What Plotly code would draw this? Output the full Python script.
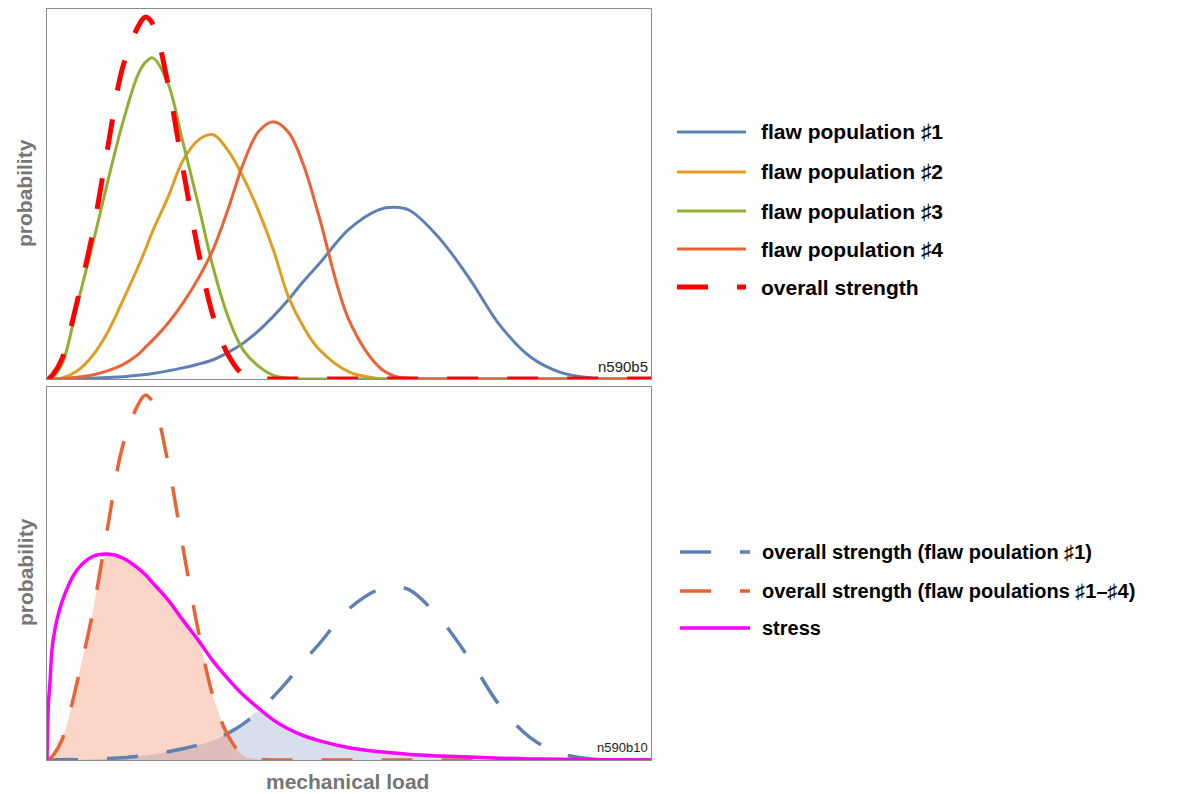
import numpy as np
import plotly.graph_objects as go

# page body has an 8px margin: figure covers reference pixels 8..1183 / 8..794
OFF = 8
W, H = 1175, 786

# mechanical load grid (arbitrary units, 0..10)
load = [0, 0.02, 0.05, 0.1, 0.25, 0.5, 0.75, 1.0, 1.25, 1.5, 1.625, 1.75, 2.0, 2.25,
        2.5, 2.75, 3.0, 3.25, 3.5, 3.75, 4.0, 4.25, 4.5, 5.0, 5.5, 5.75, 6.0, 6.5,
        7.0, 7.5, 8.0, 8.5, 9.0, 9.5, 10.0]

# probability densities (relative to panel height)
pop1 = [0, 0, 0, 0, 0.001, 0.001, 0.002, 0.004, 0.006, 0.010, 0.012, 0.015, 0.022, 0.030,
        0.040, 0.052, 0.072, 0.097, 0.130, 0.170, 0.215, 0.265, 0.310, 0.405, 0.458, 0.464, 0.456, 0.380,
        0.270, 0.145, 0.060, 0.018, 0.003, 0, 0]
pop2 = [0, 0, 0, 0, 0.003, 0.022, 0.062, 0.125, 0.210, 0.300, 0.348, 0.400, 0.490, 0.590,
        0.645, 0.660, 0.617, 0.545, 0.455, 0.348, 0.221, 0.140, 0.081, 0.019, 0.001, 0, 0, 0,
        0, 0, 0, 0, 0, 0, 0]
pop3 = [0, 0, 0.002, 0.006, 0.040, 0.200, 0.360, 0.530, 0.690, 0.820, 0.855, 0.868, 0.800, 0.640,
        0.475, 0.302, 0.167, 0.078, 0.035, 0.010, 0.002, 0, 0, 0, 0, 0, 0, 0,
        0, 0, 0, 0, 0, 0, 0]
pop4 = [0, 0, 0, 0, 0.001, 0.005, 0.011, 0.022, 0.038, 0.065, 0.085, 0.105, 0.150, 0.205,
        0.270, 0.350, 0.460, 0.582, 0.668, 0.695, 0.666, 0.577, 0.442, 0.159, 0.032, 0.008, 0.002, 0,
        0, 0, 0, 0, 0, 0, 0]
overall = [0, 0, 0.004, 0.012, 0.055, 0.210, 0.390, 0.620, 0.840, 0.950, 0.978, 0.960, 0.800, 0.570,
           0.350, 0.170, 0.065, 0.012, 0.002, 0, 0, 0, 0, 0, 0, 0, 0, 0,
           0, 0, 0, 0, 0, 0, 0]
stress = [0, 0.14, 0.21, 0.32, 0.425, 0.51, 0.545, 0.552, 0.542, 0.515, 0.497, 0.475, 0.43, 0.375,
          0.322, 0.265, 0.217, 0.174, 0.139, 0.107, 0.083, 0.065, 0.052, 0.033, 0.022, 0.019, 0.015, 0.011,
          0.008, 0.005, 0.003, 0.002, 0.001, 0.001, 0]

top_names = ["flaw population ♯1", "flaw population ♯2", "flaw population ♯3",
             "flaw population ♯4", "overall strength"]
bottom_names = ["overall strength (flaw poulation ♯1)",
                "overall strength (flaw poulations ♯1–♯4)", "stress"]

BLUE, ORANGE, GREEN, RUST = "#5E81B5", "#E19C24", "#8FB032", "#EB6235"
RED, MAGENTA = "#FF0000", "#FF00FF"
DASH = "31px,29px"

fill_red = np.minimum(np.array(stress), np.array(overall))
fill_blue = np.minimum(np.array(stress), np.array(pop1))

fig = go.Figure()


def line(y, color, width, dash=None, xa="x", ya="y"):
    fig.add_trace(go.Scatter(x=load, y=y, mode="lines", xaxis=xa, yaxis=ya,
                             line=dict(color=color, width=width, dash=dash, shape="spline", smoothing=1),
                             showlegend=False, hoverinfo="skip"))


# top panel
line(pop1, BLUE, 3)
line(pop2, ORANGE, 3)
line(pop3, GREEN, 3)
line(pop4, RUST, 3)
line(overall, RED, 5, DASH)

# bottom panel fills
fig.add_trace(go.Scatter(x=load, y=fill_blue, mode="lines", xaxis="x2", yaxis="y2",
                         line=dict(width=0, shape="spline", smoothing=1), fill="tozeroy",
                         fillcolor="rgba(94,129,181,0.25)", showlegend=False, hoverinfo="skip"))
fig.add_trace(go.Scatter(x=load, y=fill_red, mode="lines", xaxis="x2", yaxis="y2",
                         line=dict(width=0, shape="spline", smoothing=1), fill="tozeroy",
                         fillcolor="rgba(235,98,53,0.27)", showlegend=False, hoverinfo="skip"))
line(pop1, BLUE, 3.5, DASH, "x2", "y2")
line(overall, RUST, 3.5, DASH, "x2", "y2")
line(stress, MAGENTA, 3.5, None, "x2", "y2")

ax = dict(showgrid=False, zeroline=False, showticklabels=False, ticks="",
          showline=True, mirror=True, linecolor="#8c8c8c", linewidth=1,
          range=[0, 10], fixedrange=True)
ay = dict(showgrid=False, zeroline=False, showticklabels=False, ticks="",
          showline=True, mirror=True, linecolor="#8c8c8c", linewidth=1,
          range=[0, 1], fixedrange=True)


def px(xp):
    return (xp - OFF) / W


def py(yp):
    return 1 - (yp - OFF) / H


fig.update_layout(
    width=W, height=H, margin=dict(l=0, r=0, t=0, b=0),
    paper_bgcolor="white", plot_bgcolor="white", showlegend=False,
    xaxis=dict(ax, domain=[px(47), px(651)], anchor="y"),
    yaxis=dict(ay, domain=[py(379), py(9)], anchor="x"),
    xaxis2=dict(ax, domain=[px(47), px(651)], anchor="y2"),
    yaxis2=dict(ay, domain=[py(760), py(387)], anchor="x2"),
)

ann = []
shapes = []
GRAY = "#767676"
FONT = "Liberation Sans, Arial, sans-serif"
for yc in (193, 572):
    ann.append(dict(text="<b>probability</b>", x=px(25), y=py(yc), xref="paper", yref="paper",
                    xanchor="center", yanchor="middle", textangle=-90, showarrow=False,
                    font=dict(family=FONT, size=21, color=GRAY)))
ann.append(dict(text="<b>mechanical load</b>", x=px(348), y=py(781), xref="paper", yref="paper",
                xanchor="center", yanchor="middle", showarrow=False,
                font=dict(family=FONT, size=21, color=GRAY)))
ann.append(dict(text="n590b5", x=px(650), y=py(377), xref="paper", yref="paper",
                xanchor="right", yanchor="bottom", showarrow=False,
                font=dict(family=FONT, size=15, color="#222222")))
ann.append(dict(text="n590b10", x=px(650), y=py(757), xref="paper", yref="paper",
                xanchor="right", yanchor="bottom", showarrow=False,
                font=dict(family=FONT, size=13, color="#222222")))

top_styles = [(BLUE, 3, None), (ORANGE, 3, None), (GREEN, 3, None), (RUST, 3, None), (RED, 5, DASH)]
top_rows = [132, 172, 211, 249, 287]
for name, (c, w, d), yr in zip(top_names, top_styles, top_rows):
    shapes.append(dict(type="line", xref="paper", yref="paper", x0=px(677), x1=px(746),
                       y0=py(yr), y1=py(yr), line=dict(color=c, width=w, dash=d)))
    ann.append(dict(text="<b>" + name + "</b>", x=px(759), y=py(yr), xref="paper", yref="paper",
                    xanchor="left", yanchor="middle", showarrow=False,
                    font=dict(family=FONT, size=21, color="black")))

bottom_styles = [(BLUE, 3.5, DASH), (RUST, 3.5, DASH), (MAGENTA, 3.5, None)]
bottom_rows = [552, 591, 628]
for name, (c, w, d), yr in zip(bottom_names, bottom_styles, bottom_rows):
    shapes.append(dict(type="line", xref="paper", yref="paper", x0=px(680), x1=px(750),
                       y0=py(yr), y1=py(yr), line=dict(color=c, width=w, dash=d)))
    ann.append(dict(text="<b>" + name + "</b>", x=px(760), y=py(yr), xref="paper", yref="paper",
                    xanchor="left", yanchor="middle", showarrow=False,
                    font=dict(family=FONT, size=20, color="black")))

fig.update_layout(annotations=ann, shapes=shapes)
fig.write_html("out.html")
